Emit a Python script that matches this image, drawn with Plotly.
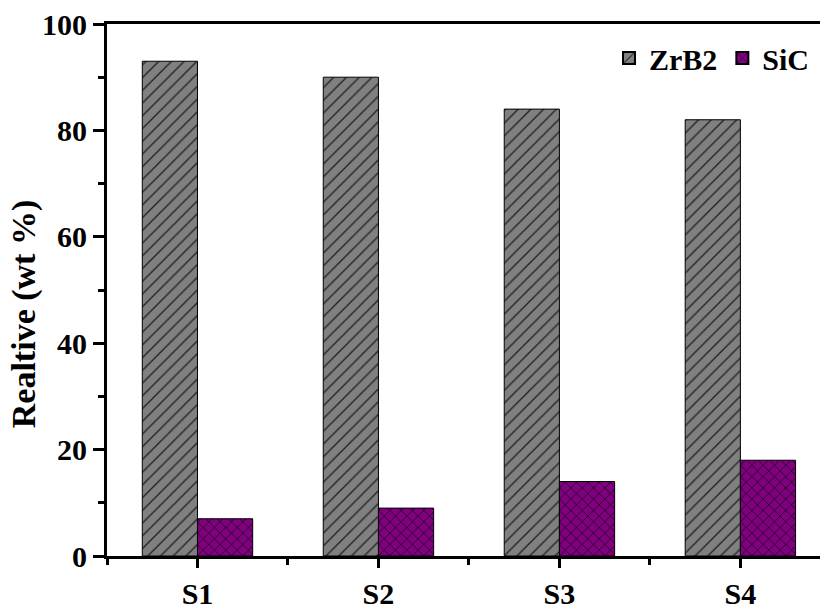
import plotly.graph_objects as go

categories = ["S1", "S2", "S3", "S4"]
zrb2_values = [93, 90, 84, 82]
sic_values = [7, 9, 14, 18]
y_ticks = [0, 20, 40, 60, 80, 100]

xpos = list(range(len(categories)))
FONT = "Liberation Serif, Times New Roman, serif"

fig = go.Figure()
fig.add_trace(go.Bar(
    x=xpos, y=zrb2_values, name="<b>ZrB2</b>",
    marker=dict(color="#808080", line=dict(color="black", width=1),
                pattern=dict(shape="/", size=9, solidity=0.15,
                             fgcolor="#222222", bgcolor="#808080", fillmode="replace")),
))
fig.add_trace(go.Bar(
    x=xpos, y=sic_values, name="<b>SiC</b>",
    marker=dict(color="#800080", line=dict(color="black", width=1),
                pattern=dict(shape="x", size=8, solidity=0.15,
                             fgcolor="#000000", bgcolor="#800080", fillmode="replace")),
))

fig.update_layout(
    width=820, height=610,
    margin=dict(l=107, r=0, t=24, b=48),
    paper_bgcolor="white", plot_bgcolor="white",
    font=dict(family=FONT, size=30, color="black"),
    barmode="group", bargap=0.39, bargroupgap=0,
    showlegend=True,
    legend=dict(orientation="h", x=0.993, xanchor="right", y=0.985, yanchor="top",
                bgcolor="rgba(0,0,0,0)", font=dict(size=30, family=FONT),
                itemsizing="constant"),
    xaxis=dict(
        range=[-0.5, 3.44], tickmode="array", tickvals=xpos,
        ticktext=["<b>%s</b>" % c for c in categories],
        showline=True, linecolor="black", linewidth=3, mirror=True,
        ticks="outside", ticklen=9, tickwidth=3, tickcolor="black",
        minor=dict(tickvals=[-0.5, 0.5, 1.5, 2.5, 3.5], ticks="outside", ticklen=6,
                   tickwidth=3, tickcolor="black"),
        showgrid=False, zeroline=False,
        tickfont=dict(size=30, family=FONT),
    ),
    yaxis=dict(
        range=[0, 100], tickmode="array", tickvals=y_ticks,
        ticktext=["<b>%d</b>" % v for v in y_ticks],
        showline=True, linecolor="black", linewidth=3,
        ticks="outside", ticklen=11, tickwidth=3, tickcolor="black",
        minor=dict(tickvals=[10, 30, 50, 70, 90], ticks="outside", ticklen=6,
                   tickwidth=3, tickcolor="black"),
        showgrid=False, zeroline=False,
        tickfont=dict(size=30, family=FONT),
    ),
    annotations=[dict(
        text="<b>Realtive (wt %)</b>", textangle=-90,
        xref="paper", yref="paper", x=-0.116, y=0.455,
        xanchor="center", yanchor="middle", showarrow=False,
        font=dict(size=34, family=FONT, color="black"),
    )],
)

fig.write_html("out.html", config={"displayModeBar": False},
               post_script="document.body.style.margin='0';")
